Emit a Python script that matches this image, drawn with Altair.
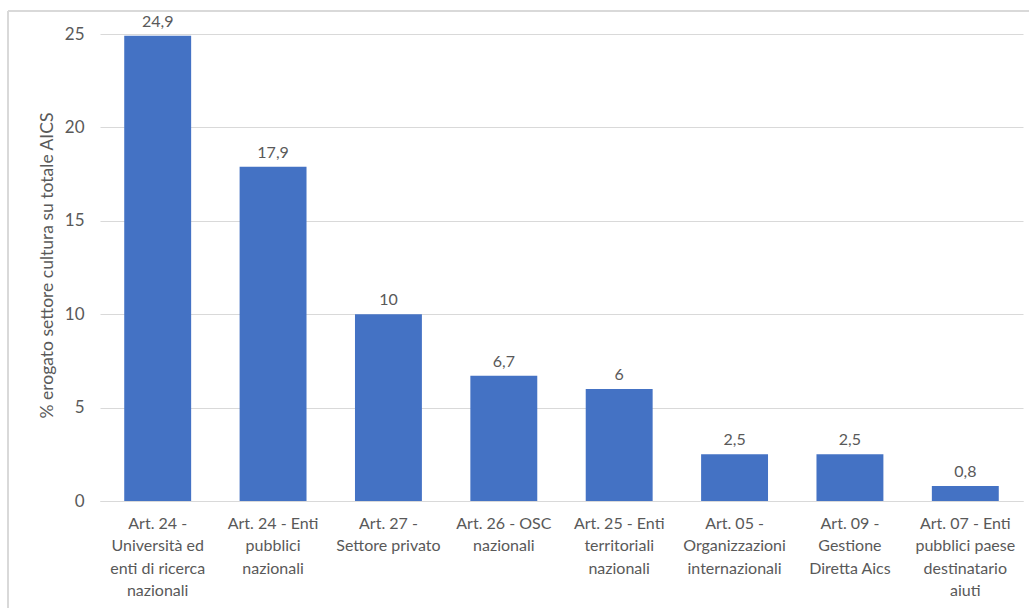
import altair as alt
import pandas as pd

categories = [
    "Art. 24 -\nUniversità ed\nenti di ricerca\nnazionali",
    "Art. 24 - Enti\npubblici\nnazionali",
    "Art. 27 -\nSettore privato",
    "Art. 26 - OSC\nnazionali",
    "Art. 25 - Enti\nterritoriali\nnazionali",
    "Art. 05 -\nOrganizzazioni\ninternazionali",
    "Art. 09 -\nGestione\nDiretta Aics",
    "Art. 07 - Enti\npubblici paese\ndestinatario\naiuti",
]
values = [24.9, 17.9, 10, 6.7, 6, 2.5, 2.5, 0.8]
y_ticks = [0, 5, 10, 15, 20, 25]

df = pd.DataFrame({"cat": categories, "v": values})

FONT = "Lato"
GREY = "#595959"

x_enc = alt.X(
    "cat:N", sort=None, title=None,
    scale=alt.Scale(paddingInner=0.42, paddingOuter=0.21),
    axis=alt.Axis(
        labelAngle=0, labelExpr="split(datum.label, '\\n')",
        labelFontSize=16, labelColor=GREY, labelFont=FONT, labelLineHeight=22.5,
        labelPadding=14, ticks=False, domainColor="#D9D9D9", labelLimit=200,
        labelBaseline="top",
    ),
)
y_enc = alt.Y(
    "v:Q",
    scale=alt.Scale(domain=[0, 25], nice=False),
    axis=alt.Axis(
        values=y_ticks, title="% erogato settore cultura su totale AICS",
        titleFontSize=17.5, titleFontWeight="normal", titleColor=GREY, titleFont=FONT,
        titleX=-53, titleY=231, titleAngle=-90, titleAlign="center", titleBaseline="middle",
        labelFontSize=17, labelColor=GREY, labelFont=FONT, labelPadding=16,
        ticks=False, domain=False, gridColor="#D9D9D9", gridWidth=1,
    ),
)

base = alt.Chart(df)
bars = base.mark_bar(color="#4472C4").encode(x=x_enc, y=y_enc)
text = base.transform_calculate(
    lab="replace(format(datum.v, ''), '.', ',')"
).mark_text(dy=-6, baseline="bottom", fontSize=16, color=GREY, font=FONT).encode(
    x=alt.X("cat:N", sort=None), y=alt.Y("v:Q"), text="lab:N"
)

border_left = alt.Chart(df).mark_rule(color="#D9D9D9", strokeWidth=2).encode(
    x=alt.value(-92), y=alt.value(-23), y2=alt.value(580)
)
border_top = alt.Chart(df).mark_rule(color="#D9D9D9", strokeWidth=2).encode(
    x=alt.value(-92), x2=alt.value(940), y=alt.value(-23)
)

chart = alt.layer(bars, text, border_left, border_top).properties(
    width=923, height=467,
    autosize=alt.AutoSizeParams(type="none"),
    padding={"left": 100, "top": 34, "right": 6, "bottom": 107},
).configure_view(stroke=None)

chart.save("out.html", embed_options={"renderer": "svg", "actions": False})
